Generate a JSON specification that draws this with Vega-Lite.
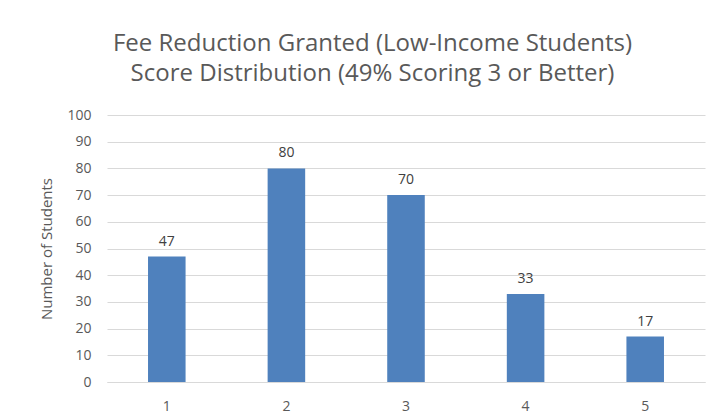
{
  "$schema": "https://vega.github.io/schema/vega-lite/v6.json",
  "width": 598,
  "height": 267,
  "autosize": {"type": "none"},
  "padding": {"left": 107, "top": 115, "right": 9, "bottom": 38},
  "background": "white",
  "title": {
    "text": ["Fee Reduction Granted (Low-Income Students)", "Score Distribution (49% Scoring 3 or Better)"],
    "font": "Open Sans",
    "fontSize": 24,
    "fontWeight": "normal",
    "color": "#595959",
    "lineHeight": 30,
    "anchor": "middle",
    "frame": "bounds",
    "offset": 22
  },
  "config": {
    "view": {"stroke": null},
    "font": "Open Sans"
  },
  "data": {
    "values": [
      {"score": "1", "count": 47},
      {"score": "2", "count": 80},
      {"score": "3", "count": 70},
      {"score": "4", "count": 33},
      {"score": "5", "count": 17}
    ]
  },
  "encoding": {
    "x": {
      "field": "score",
      "type": "ordinal",
      "sort": null,
      "scale": {"paddingInner": 0.686, "paddingOuter": 0.343},
      "axis": {
        "title": null,
        "labelAngle": 0,
        "labelFont": "Open Sans",
        "labelFontSize": 14,
        "labelColor": "#595959",
        "labelPadding": 17,
        "ticks": false,
        "domain": true,
        "domainColor": "#d9d9d9",
        "grid": false
      }
    },
    "y": {
      "field": "count",
      "type": "quantitative",
      "scale": {"domain": [0, 100], "nice": false},
      "axis": {
        "title": "Number of Students",
        "titleFont": "Open Sans",
        "titleFontSize": 15,
        "titleFontWeight": "normal",
        "titleColor": "#595959",
        "titlePadding": 12,
        "values": [0, 10, 20, 30, 40, 50, 60, 70, 80, 90, 100],
        "labelFont": "Open Sans",
        "labelFontSize": 14,
        "labelColor": "#595959",
        "labelPadding": 16,
        "ticks": false,
        "domain": false,
        "grid": true,
        "gridColor": "#d9d9d9",
        "gridWidth": 1
      }
    }
  },
  "layer": [
    {
      "mark": {"type": "bar", "color": "#4f81bd"}
    },
    {
      "mark": {"type": "text", "baseline": "bottom", "dy": -8, "fontSize": 14, "color": "#404040", "font": "Open Sans"},
      "encoding": {"text": {"field": "count", "type": "quantitative"}}
    }
  ]
}
